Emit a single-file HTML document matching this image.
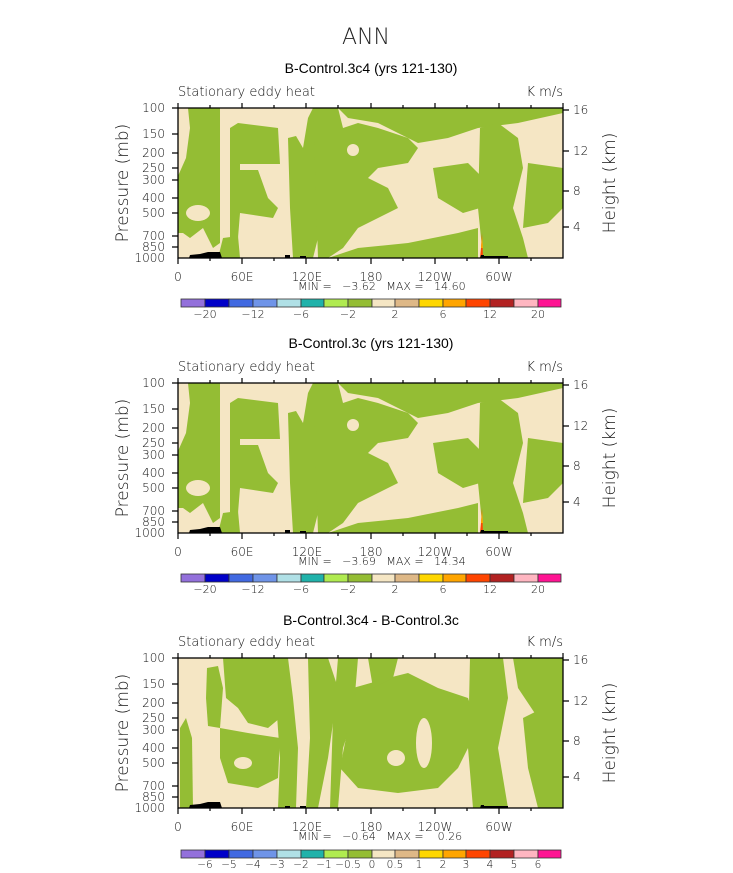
<!DOCTYPE html>
<html><head><meta charset="utf-8"><style>
html,body{margin:0;padding:0;background:#fff;}
svg{display:block;font-family:"Liberation Sans",sans-serif;}
text{white-space:pre;}
</style></head><body>
<svg width="733" height="873" viewBox="0 0 733 873" xmlns="http://www.w3.org/2000/svg" xml:space="preserve">
<defs>
<g id="f12">
<rect x="0" y="0" width="385" height="150" fill="#f5e6c4"/>
<g fill="#94bd34">
<polygon points="10,0 42,0 42,135 35,140 25,120 12,130 5,125 0,125 0,68 8,50 12,20"/>
<polygon points="52,20 60,15 100,20 102,56 62,56 62,62 80,62 90,90 100,100 95,110 62,105 60,130 52,130"/>
<polygon points="110,30 118,28 125,40 130,10 135,0 150,0 148,100 140,130 135,150 115,150 112,100"/>
<polygon points="135,0 160,0 165,20 180,15 200,20 230,30 240,40 230,55 200,60 190,70 210,80 220,100 200,110 180,120 165,140 150,150 140,150"/>
<polygon points="160,0 385,0 385,5 340,15 300,20 270,30 240,35 230,30 200,15 170,10"/>
<polygon points="255,60 290,55 305,70 302,100 285,105 260,90"/>
<polygon points="302,20 320,15 340,30 345,60 335,100 345,130 350,150 305,150 300,100"/>
<polygon points="350,55 385,60 385,100 370,115 345,120"/>
<polygon points="150,150 180,140 230,135 280,125 300,120 300,150"/>
<polygon points="40,150 45,130 60,128 62,150"/>
</g>
<g fill="#f5e6c4">
<ellipse cx="175" cy="42" rx="6" ry="6"/>
<ellipse cx="240" cy="100" rx="8" ry="12"/>
<ellipse cx="20" cy="105" rx="12" ry="8"/>
</g>
<polygon points="302,150 303,140 304,125 305,150" fill="#ff4500"/>
<polygon points="303,140 304,128 305,140" fill="#ffa500"/>
<polygon points="11,150 12,147 22,146 30,144 42,144 44,150" fill="#000"/>
<rect x="107" y="147" width="5" height="3" fill="#000"/>
<rect x="122" y="148" width="6" height="2" fill="#000"/>
<polygon points="302,150 303,147 306,147 306,148 330,148 330,150" fill="#000"/>
</g>
</defs>

<text x="366" y="44" font-size="22" text-anchor="middle" fill="#222" style="font-family:'DejaVu Sans',sans-serif;font-weight:200">ANN</text>

<g transform="translate(178,108)"><use href="#f12"/></g>
<g transform="translate(178,383)"><use href="#f12"/></g>
<g transform="translate(178,658)">
<rect x="0" y="0" width="385" height="150" fill="#f5e6c4"/>
<g fill="#94bd34">
<polygon points="2,70 8,60 14,80 15,150 2,150"/>
<polygon points="29,10 40,8 45,30 42,70 30,68 28,40"/>
<polygon points="45,0 102,0 102,60 90,70 70,65 60,50 48,40"/>
<polygon points="42,70 70,75 102,80 100,120 80,130 50,125 42,100"/>
<polygon points="95,0 110,0 115,40 120,90 118,150 100,150 102,100"/>
<polygon points="130,0 150,0 160,30 150,100 140,150 128,150 132,80"/>
<polygon points="160,0 180,0 175,60 165,90 160,150 152,150 155,60"/>
<polygon points="175,30 210,20 230,15 260,30 290,40 300,70 280,110 260,130 220,135 180,130 162,110 170,70"/>
<polygon points="190,0 220,0 215,20 195,30"/>
<polygon points="292,0 325,0 330,40 320,90 330,150 295,150 290,90"/>
<polygon points="335,0 385,0 385,60 360,60 340,30"/>
<polygon points="345,60 385,40 385,150 360,150 350,110"/>
</g>
<g fill="#f5e6c4">
<ellipse cx="246" cy="85" rx="8" ry="25"/>
<ellipse cx="65" cy="105" rx="9" ry="6"/>
<ellipse cx="218" cy="100" rx="9" ry="8"/>
</g>
<polygon points="11,150 12,147 22,146 30,144 42,144 44,150" fill="#000"/>
<rect x="107" y="148" width="5" height="2" fill="#000"/>
<rect x="122" y="148" width="6" height="2" fill="#000"/>
<polygon points="302,150 303,147 306,147 306,148 330,148 330,150" fill="#000"/>
</g>

<g stroke="#000" fill="none" stroke-width="1.3">
<rect x="178" y="108" width="385" height="150"/>
<rect x="178" y="383" width="385" height="150"/>
<rect x="178" y="658" width="385" height="150"/>
</g>
<g stroke="#000" stroke-width="1.2">
<path d="M178,108v-5M210,108v-3M242,108v-5M274,108v-3M306,108v-5M338,108v-3M371,108v-5M403,108v-3M435,108v-5M467,108v-3M499,108v-5M531,108v-3M563,108v-5
M178,258v6M210,258v3M242,258v6M274,258v3M306,258v6M338,258v3M371,258v6M403,258v3M435,258v6M467,258v3M499,258v6M531,258v3
M178,108h-6M178,134h-6M178,153h-6M178,168h-6M178,180h-6M178,198h-6M178,213h-6M178,236h-6M178,247h-6
M563,110h6M563,151h6M563,191h6M563,227h6"/>
<path transform="translate(0,275)" d="M178,108v-5M210,108v-3M242,108v-5M274,108v-3M306,108v-5M338,108v-3M371,108v-5M403,108v-3M435,108v-5M467,108v-3M499,108v-5M531,108v-3M563,108v-5
M178,258v6M210,258v3M242,258v6M274,258v3M306,258v6M338,258v3M371,258v6M403,258v3M435,258v6M467,258v3M499,258v6M531,258v3
M178,108h-6M178,134h-6M178,153h-6M178,168h-6M178,180h-6M178,198h-6M178,213h-6M178,236h-6M178,247h-6
M563,110h6M563,151h6M563,191h6M563,227h6"/>
<path transform="translate(0,550)" d="M178,108v-5M210,108v-3M242,108v-5M274,108v-3M306,108v-5M338,108v-3M371,108v-5M403,108v-3M435,108v-5M467,108v-3M499,108v-5M531,108v-3M563,108v-5
M178,258v6M210,258v3M242,258v6M274,258v3M306,258v6M338,258v3M371,258v6M403,258v3M435,258v6M467,258v3M499,258v6M531,258v3
M178,108h-6M178,134h-6M178,153h-6M178,168h-6M178,180h-6M178,198h-6M178,213h-6M178,236h-6M178,247h-6
M563,110h6M563,151h6M563,191h6M563,227h6"/>
</g>

<g id="lab" font-size="12" fill="#111" style="font-family:'DejaVu Sans',sans-serif;font-weight:200">
<g text-anchor="end">
<text x="165" y="112">100</text><text x="165" y="138">150</text><text x="165" y="157">200</text><text x="165" y="172">250</text><text x="165" y="184">300</text><text x="165" y="202">400</text><text x="165" y="217">500</text><text x="165" y="240">700</text><text x="165" y="251">850</text><text x="165" y="262">1000</text>
</g>
<text x="573" y="114">16</text><text x="573" y="155">12</text><text x="573" y="195">8</text><text x="573" y="231">4</text>
<g text-anchor="middle">
<text x="178" y="281">0</text><text x="242" y="281">60E</text><text x="307" y="281">120E</text><text x="371" y="281">180</text><text x="435" y="281">120W</text><text x="499" y="281">60W</text>
</g>
<text x="178" y="96" font-size="13">Stationary eddy heat</text>
<text x="563" y="96" font-size="13" text-anchor="end">K m/s</text>
<text transform="translate(128,183) rotate(-90)" font-size="17" text-anchor="middle">Pressure (mb)</text>
<text transform="translate(615,183) rotate(-90)" font-size="17" text-anchor="middle">Height (km)</text>
</g>
<use href="#lab" transform="translate(0,275)"/>
<use href="#lab" transform="translate(0,550)"/>

<g font-size="14" text-anchor="middle" fill="#000">
<text x="371" y="73">B-Control.3c4 (yrs 121-130)</text>
<text x="371" y="348">B-Control.3c (yrs 121-130)</text>
<text x="371" y="625">B-Control.3c4 - B-Control.3c</text>
</g>
<g font-size="11" fill="#111" style="font-family:'DejaVu Sans',sans-serif;font-weight:200">
<text x="298" y="290">MIN =   −3.62   MAX =   14.60</text>
<text x="298" y="565">MIN =   −3.69   MAX =   14.34</text>
<text x="298" y="840">MIN =   −0.64   MAX =    0.26</text>
</g>

<g id="cb">
<g stroke="#333" stroke-width="0.8">
<rect x="181" y="299" width="24" height="8" fill="#9370db"/>
<rect x="205" y="299" width="24" height="8" fill="#0000c8"/>
<rect x="229" y="299" width="24" height="8" fill="#4169e1"/>
<rect x="253" y="299" width="24" height="8" fill="#6f94e8"/>
<rect x="277" y="299" width="24" height="8" fill="#b0e0e6"/>
<rect x="301" y="299" width="23" height="8" fill="#20b2aa"/>
<rect x="324" y="299" width="24" height="8" fill="#b0eb50"/>
<rect x="348" y="299" width="24" height="8" fill="#94bd34"/>
<rect x="372" y="299" width="23" height="8" fill="#f5e6c4"/>
<rect x="395" y="299" width="24" height="8" fill="#deb887"/>
<rect x="419" y="299" width="24" height="8" fill="#ffd700"/>
<rect x="443" y="299" width="23" height="8" fill="#ffa500"/>
<rect x="466" y="299" width="24" height="8" fill="#ff4500"/>
<rect x="490" y="299" width="24" height="8" fill="#b22222"/>
<rect x="514" y="299" width="24" height="8" fill="#ffb6c1"/>
<rect x="538" y="299" width="23" height="8" fill="#ff1493"/>
</g>
</g>
<use href="#cb" transform="translate(0,275)"/>
<use href="#cb" transform="translate(0,551)"/>
<g font-size="11" fill="#111" text-anchor="middle" style="font-family:'DejaVu Sans',sans-serif;font-weight:200">
<g id="cl1">
<text x="205" y="318">−20</text><text x="253" y="318">−12</text><text x="301" y="318">−6</text><text x="348" y="318">−2</text><text x="395" y="318">2</text><text x="443" y="318">6</text><text x="490" y="318">12</text><text x="538" y="318">20</text>
</g>
<use href="#cl1" transform="translate(0,275)"/>
<g transform="translate(0,550)" font-size="10.5">
<text x="205" y="318">−6</text><text x="229" y="318">−5</text><text x="253" y="318">−4</text><text x="277" y="318">−3</text><text x="301" y="318">−2</text><text x="324" y="318">−1</text><text x="348" y="318">−0.5</text><text x="372" y="318">0</text><text x="395" y="318">0.5</text><text x="419" y="318">1</text><text x="443" y="318">2</text><text x="466" y="318">3</text><text x="490" y="318">4</text><text x="514" y="318">5</text><text x="538" y="318">6</text>
</g>
</g>
</svg>
</body></html>
